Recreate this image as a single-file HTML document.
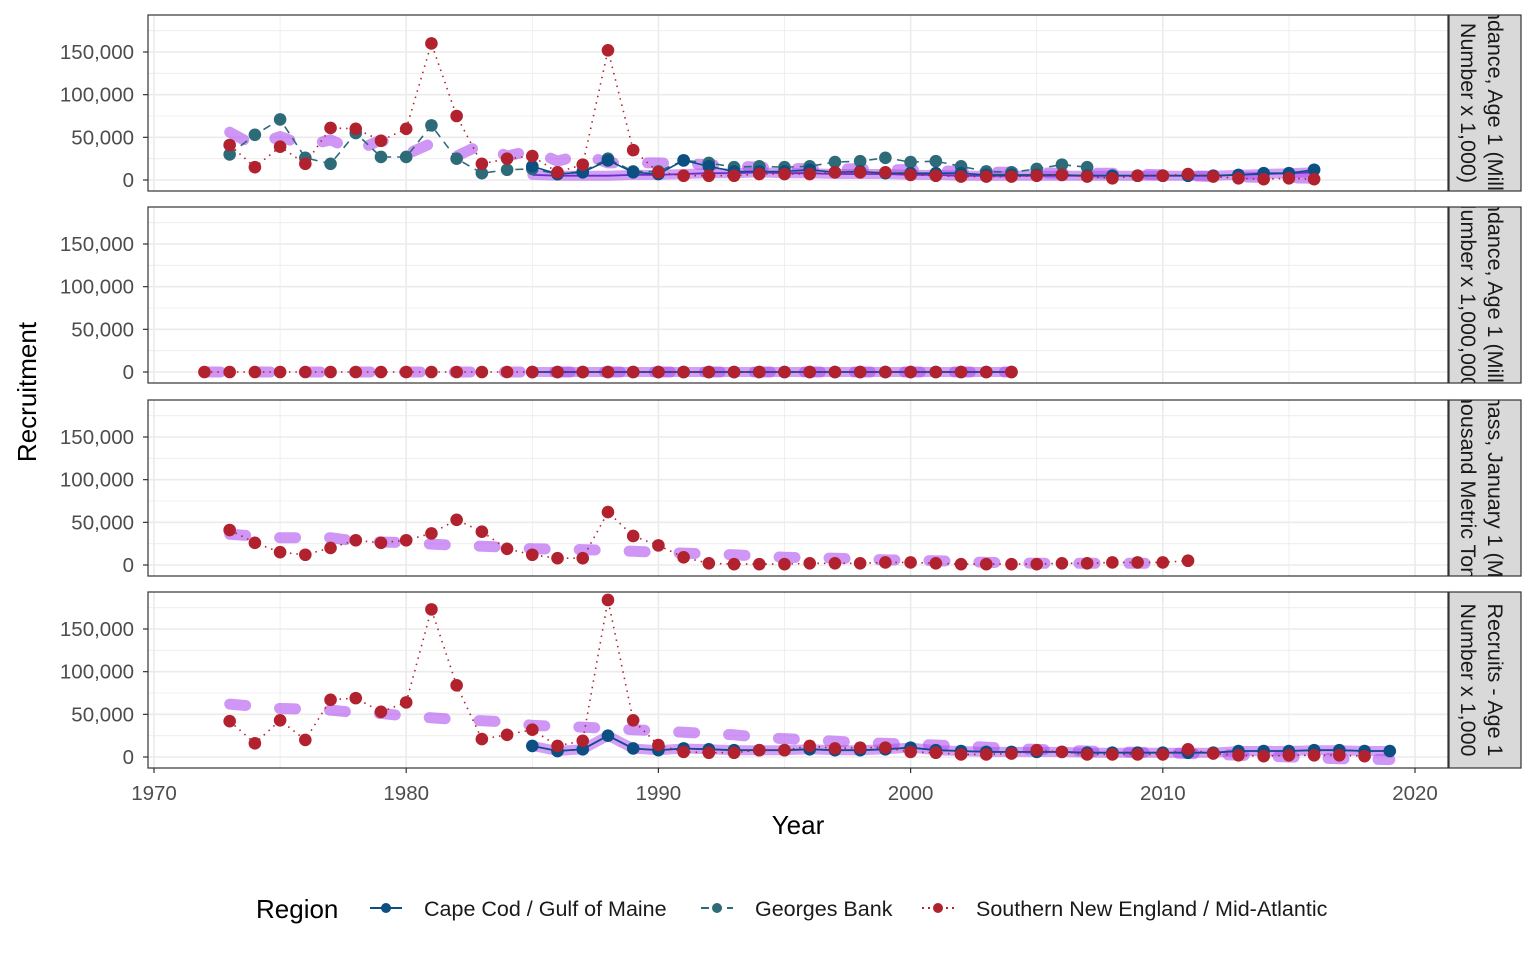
<!DOCTYPE html>
<html><head><meta charset="utf-8"><style>
body{margin:0;background:#fff;font-family:"Liberation Sans",Arial,sans-serif}
svg{display:block}
</style></head><body>
<svg id="chart" width="1536" height="960" xmlns="http://www.w3.org/2000/svg">
<rect width="1536" height="960" fill="#fff"/>
<g id="plots"></g>
<text x="36" y="392" font-size="26" text-anchor="middle" transform="rotate(-90 36 392)" fill="#000">Recruitment</text>
<text x="798" y="834" font-size="26" text-anchor="middle" fill="#000">Year</text>
<g>
<text x="256" y="918" font-size="26" fill="#000">Region</text>
<g><line x1="370" y1="908" x2="402" y2="908" stroke="#0b4f83" stroke-width="2"/><circle cx="386" cy="908" r="5" fill="#0b4f83"/><text x="424" y="916" font-size="21.5" fill="#1a1a1a">Cape Cod / Gulf of Maine</text></g>
<g><line x1="701" y1="908" x2="733" y2="908" stroke="#2e6b78" stroke-width="2" stroke-dasharray="8 5"/><circle cx="717" cy="908" r="5" fill="#2e6b78"/><text x="755" y="916" font-size="21.5" fill="#1a1a1a">Georges Bank</text></g>
<g><line x1="922" y1="908" x2="954" y2="908" stroke="#b2222e" stroke-width="2" stroke-dasharray="2 4"/><circle cx="938" cy="908" r="5" fill="#b2222e"/><text x="976" y="916" font-size="21.5" fill="#1a1a1a">Southern New England / Mid-Atlantic</text></g>
</g>
</svg>
<script>
// ---- data ----
const yTicks=[0,50000,100000,150000];
const xTicks=[1970,1980,1990,2000,2010,2020];
const stripLabels=[["Abundance, Age 1 (Millions,","Number x 1,000)"],["Abundance, Age 1 (Millions,","Number x 1,000,000)"],["Biomass, January 1 (Metric","Thousand Metric Tons)"],["Recruits - Age 1","Number x 1,000"]];
// panel 1
const p1SneYears=[1973,1974,1975,1976,1977,1978,1979,1980,1981,1982,1983,1984,1985,1986,1987,1988,1989,1990,1991,1992,1993,1994,1995,1996,1997,1998,1999,2000,2001,2002,2003,2004,2005,2006,2007,2008,2009,2010,2011,2012,2013,2014,2015,2016];
const p1Sne=[41,15,39,19,61,60,46,60,160,75,19,25,28,9,18,152,35,9,5,5,5,7,7,7,9,9,9,6,5,4,4,4,5,6,4,2,5,5,7,4,2,1,2,1];
const p1GbYears=[1973,1974,1975,1976,1977,1978,1979,1980,1981,1982,1983,1984,1985,1986,1987,1988,1989,1990,1991,1992,1993,1994,1995,1996,1997,1998,1999,2000,2001,2002,2003,2004,2005,2006,2007];
const p1Gb=[30,53,71,26,19,55,27,27,64,25,8,12,13,7,10,25,10,10,23,20,15,16,15,16,21,22,26,21,22,16,10,9,13,18,15];
const p1CcYears=[1985,1986,1987,1988,1989,1990,1991,1992,1993,1994,1995,1996,1997,1998,1999,2000,2001,2002,2003,2004,2005,2006,2007,2008,2009,2010,2011,2012,2013,2014,2015,2016];
const p1Cc=[16,7,9,23,9,7,23,16,10,10,10,12,9,10,8,8,8,8,6,6,6,6,5,5,5,5,5,5,6,8,8,12];
const p1FitYears=[1973,1974,1975,1976,1977,1978,1979,1980,1981,1982,1983,1984,1985,1986,1987,1988,1990,1992,1994,1996,1998,2000,2002,2004,2006,2008,2010,2012,2014,2016];
const p1Fit=[56,40,51,40,47,34,47,30,43,28,42,28,35,22,30,20,20,18,15,13,13,12,10,9,8,8,6,4,3,2];
const p1Fit2=[6,5,5,5,6,6,7,8,8,9,8,8,7,7,7,6,6,5,5,5,5,5,5,5,5,5,5,5,6,7,8,9];
// panel 2
const p2SneYears=[1972,1973,1974,1975,1976,1977,1978,1979,1980,1981,1982,1983,1984,1985,1986,1987,1988,1989,1990,1991,1992,1993,1994,1995,1996,1997,1998,1999,2000,2001,2002,2003,2004];
const p2Sne=p2SneYears.map(()=>0);
const p2CcYears=[1985,1986,1987,1988,1989,1990,1991,1992,1993,1994,1995,1996,1997,1998,1999,2000,2001,2002,2003,2004];
const p2Cc=[0,0,0,0,0,0,0,0,0,0,0,0,0,0,0,0,0,0,0,0];
// panel 3
const p3SneYears=[1973,1974,1975,1976,1977,1978,1979,1980,1981,1982,1983,1984,1985,1986,1987,1988,1989,1990,1991,1992,1993,1994,1995,1996,1997,1998,1999,2000,2001,2002,2003,2004,2005,2006,2007,2008,2009,2010,2011];
const p3Sne=[41,26,15,12,20,29,26,29,37,53,39,19,12,8,8,62,34,23,9,2,1,1,1,2,2,2,3,3,2,1,1,1,1,2,2,3,3,3,5];
const p3FitYears=[1973,1975,1977,1978,1980,1982,1984,1985,1987,1989,1991,1993,1995,1997,1999,2001,2003,2005,2007,2009,2010];
const p3Fit=[36,32,32,28,26,23,21,19,18,16,14,12,9,8,6,5,3,2,2,2,2];
// panel 4
const p4SneYears=[1973,1974,1975,1976,1977,1978,1979,1980,1981,1982,1983,1984,1985,1986,1987,1988,1989,1990,1991,1992,1993,1994,1995,1996,1997,1998,1999,2000,2001,2002,2003,2004,2005,2006,2007,2008,2009,2010,2011,2012,2013,2014,2015,2016,2017,2018];
const p4Sne=[42,16,43,20,67,69,53,64,173,84,21,26,32,13,19,184,43,14,6,5,5,8,8,13,10,11,11,6,5,3,3,4,8,6,3,3,3,3,9,4,2,1,2,2,2,1];
const p4CcYears=[1985,1986,1987,1988,1989,1990,1991,1992,1993,1994,1995,1996,1997,1998,1999,2000,2001,2002,2003,2004,2005,2006,2007,2008,2009,2010,2011,2012,2013,2014,2015,2016,2017,2018,2019];
const p4Cc=[13,7,9,25,10,8,10,9,8,8,8,9,8,8,9,11,8,7,6,6,6,6,5,5,5,5,5,5,7,7,7,8,8,7,7];
const p4FitYears=[1973,1975,1977,1978,1979,1980,1982,1984,1985,1987,1989,1991,1993,1994,1996,1998,2000,2002,2004,2006,2008,2010,2012,2014,2016,2017,2019];
const p4Fit=[62,57,55,52,51,48,44,41,37,35,32,29,26,23,20,17,15,13,10,8,6,5,3,1,-1,-2,-3];

const panels=[
 {top:15,series:[{f:[p1FitYears,p1Fit]},{f2:[p1CcYears,p1Fit2]},{gb:[p1GbYears,p1Gb]},{cc:[p1CcYears,p1Cc]},{sne:[p1SneYears,p1Sne]}]},
 {top:207,series:[{f:[p2SneYears,p2Sne]},{f2:[p2CcYears,p2Cc]},{cc:[p2CcYears,p2Cc]},{sne:[p2SneYears,p2Sne]}]},
 {top:400,series:[{f:[p3FitYears,p3Fit]},{sne:[p3SneYears,p3Sne]}]},
 {top:592,series:[{f:[p4FitYears,p4Fit]},{f2:[p4CcYears,p4Cc]},{cc:[p4CcYears,p4Cc]},{sne:[p4SneYears,p4Sne]}]}
];
const NS="http://www.w3.org/2000/svg";
const L=148,R=1448,H=176;
const xs=y=>154+(y-1970)*25.22;
function mk(tag,at,par){const e=document.createElementNS(NS,tag);for(const k in at)e.setAttribute(k,at[k]);par.appendChild(e);return e;}
const root=document.getElementById('plots');
const styles={
 f:{stroke:'rgba(175,80,240,0.6)',w:11,dash:'16 34',pt:null},
 f2:{stroke:'rgba(175,80,240,0.55)',w:10,dash:null,pt:null},
 gb:{stroke:'#2e6b78',w:1.6,dash:'8 6',pt:'#2e6b78'},
 cc:{stroke:'#0b4f83',w:1.6,dash:null,pt:'#0b4f83'},
 sne:{stroke:'#b2222e',w:1.6,dash:'1.5 5',pt:'#b2222e'}
};
panels.forEach((p,i)=>{
 const g=mk('g',{},root);
 
 
 const zero=p.top+165;
 const ys=v=>zero-v*128/150000;
 for(let v=-25000;v<=175000;v+=25000){const y=ys(v);if(y<p.top||y>p.top+H)continue;
  const ln=mk('line',{x1:L,x2:R,y1:y,y2:y,stroke:'#ebebeb','stroke-width':v%50000===0?1.6:0.8},g);
  }
 for(let yr=1970;yr<=2020;yr+=5){const x=xs(yr);
  const ln=mk('line',{x1:x,x2:x,y1:p.top,y2:p.top+H,stroke:'#ebebeb','stroke-width':yr%10===0?1.6:0.8},g);
  }
 const clipId='clip'+i;
 const cp=mk('clipPath',{id:clipId},g);mk('rect',{x:L,y:p.top,width:R-L,height:H},cp);
 const sg=mk('g',{'clip-path':'url(#'+clipId+')'},g);
 p.series.forEach(s=>{const key=Object.keys(s)[0];const [yrs,vals]=s[key];const st=styles[key];
  const mult=1000;
  const pts=yrs.map((y,j)=>xs(y).toFixed(1)+','+ys(vals[j]*mult).toFixed(1)).join(' ');
  const pl=mk('polyline',{points:pts,fill:'none',stroke:st.stroke,'stroke-width':st.w,'stroke-linecap':key.startsWith('f')?'round':'butt','stroke-linejoin':'round'},sg);
  if(st.dash)pl.setAttribute('stroke-dasharray',st.dash);
  
  
  if(key==='f2'){const t=mk('polyline',{points:pts,fill:'none',stroke:'#6a30c8','stroke-width':1.8},sg);
   }
  if(st.pt){yrs.forEach((y,j)=>{const c=mk('circle',{cx:xs(y),cy:ys(vals[j]*mult),r:6.3,fill:st.pt},sg);
   });}
 });
 const b=mk('rect',{x:L,y:p.top,width:R-L,height:H,fill:'none',stroke:'#333','stroke-width':1.2},g);
 
 yTicks.forEach(v=>{const y=ys(v);
  mk('line',{x1:L-5,x2:L,y1:y,y2:y,stroke:'#333','stroke-width':1.2},g);
  const t=mk('text',{x:L-14,y:y+7,'font-size':20.5,'text-anchor':'end',fill:'#4d4d4d'},g);t.textContent=v.toLocaleString('en-US');
  });
 const sc='sclip'+i;const scp=mk('clipPath',{id:sc},g);mk('rect',{x:1449,y:p.top,width:72,height:H},scp);
 const sr=mk('rect',{x:1449,y:p.top,width:72,height:H,fill:'#d9d9d9',stroke:'#333','stroke-width':1.2},g);
 
 const sgt=mk('g',{'clip-path':'url(#'+sc+')'},g);
 const cy=p.top+H/2;
 stripLabels[i].forEach((s,k)=>{const x=k===0?1488:1461;
  const t=mk('text',{x:x,y:cy,'font-size':21.5,'text-anchor':'middle',fill:'#1a1a1a',transform:'rotate(90 '+x+' '+cy+')'},sgt);t.textContent=s;
  });
});
const xa=mk('g',{},root);


xTicks.forEach(yr=>{const x=xs(yr);mk('line',{x1:x,x2:x,y1:768,y2:773,stroke:'#333','stroke-width':1.2},xa);
 const t=mk('text',{x:x,y:800,'font-size':20.5,'text-anchor':'middle',fill:'#4d4d4d'},xa);t.textContent=yr;
 });
</script>
</body></html>
